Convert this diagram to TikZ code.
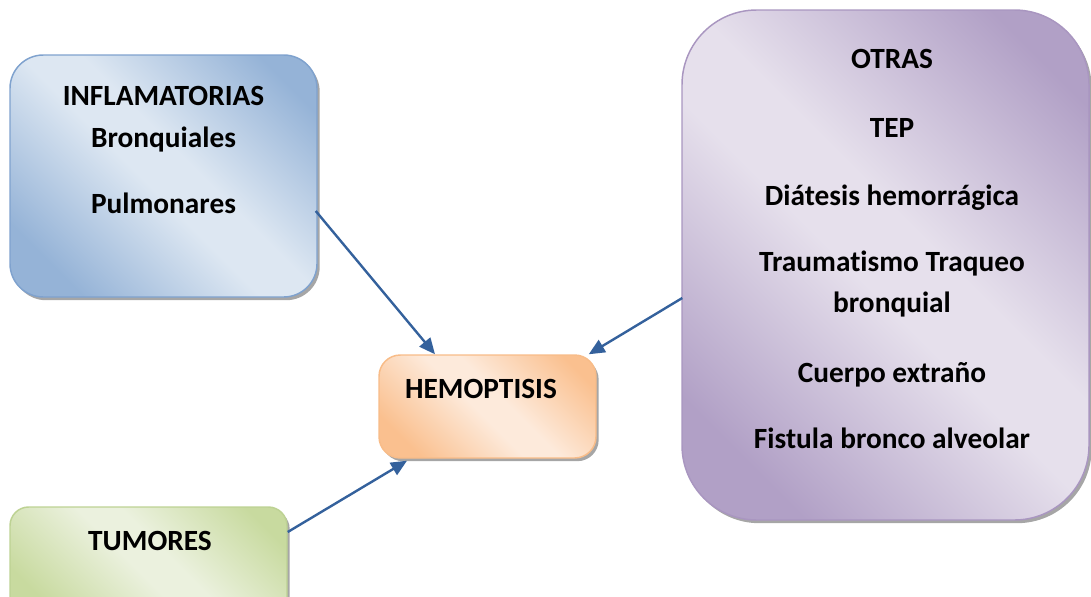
\documentclass[tikz,border=0pt]{standalone}
\usepackage{fontspec}
\setmainfont{Carlito}[Ligatures=NoCommon]
\usetikzlibrary{arrows.meta,shadows,calc}

\definecolor{blueDark}{HTML}{95B3D7}
\definecolor{blueLight}{HTML}{DDE7F2}
\definecolor{blueEdge}{HTML}{7FA2CE}
\definecolor{orangeDark}{HTML}{FAC08F}
\definecolor{orangeLight}{HTML}{FDEADB}
\definecolor{orangeEdge}{HTML}{F8BC88}
\definecolor{greenDark}{HTML}{C8DA9F}
\definecolor{greenLight}{HTML}{EBF1DE}
\definecolor{greenEdge}{HTML}{BDD293}
\definecolor{purpleDark}{HTML}{B1A0C6}
\definecolor{purpleLight}{HTML}{E6E0EC}
\definecolor{purpleEdge}{HTML}{A996C0}
\definecolor{arrowBlue}{HTML}{34619C}

% diagonal two-tone gradients: dark ends, broad light middle
\newcommand{\diagshade}[3]{%
  \pgfdeclareverticalshading{#1}{100bp}{%
    color(0bp)=(#2); color(24bp)=(#2); color(47bp)=(#3); color(55bp)=(#3);
    color(78bp)=(#2); color(100bp)=(#2)}}
\diagshade{blueGlow}{blueDark}{blueLight}
\diagshade{orangeGlow}{orangeDark}{orangeLight}
\diagshade{greenGlow}{greenDark}{greenLight}
\diagshade{purpleGlow}{purpleDark}{purpleLight}

\tikzset{
  box/.style={draw, line width=1.1pt, inner sep=0pt,
    drop shadow={shadow xshift=2pt, shadow yshift=-2.4pt, fill=black, opacity=0.35}},
  glow/.style={shade, shading=#1, shading angle=-45},
  label/.style={anchor=base, inner sep=0pt, font=\fontsize{22}{26}\selectfont\bfseries},
  link/.style={draw=arrowBlue, line width=1.8pt,
    -{Triangle[length=12pt, width=10.5pt]}},
}

\begin{document}
\begin{tikzpicture}[x=0.75pt, y=-0.75pt]
  \useasboundingbox (0,0) rectangle (1091,596);

  % boxes
  \node[box, draw=blueEdge, glow=blueGlow, rounded corners=25pt,
        minimum width={307*0.75pt}, minimum height={242*0.75pt}]
        (infl) at (163.5,176) {};
  \node[box, draw=purpleEdge, glow=purpleGlow, rounded corners=56pt,
        minimum width={407*0.75pt}, minimum height={510*0.75pt}]
        (otras) at (885.5,265) {};
  \node[box, draw=orangeEdge, glow=orangeGlow, rounded corners=16pt,
        minimum width={217*0.75pt}, minimum height={103*0.75pt}]
        (hemo) at (487.5,406.5) {};
  \node[box, draw=greenEdge, glow=greenGlow, rounded corners=14pt,
        minimum width={277*0.75pt}, minimum height={113*0.75pt}]
        (tum) at (148.5,563.5) {};

  % texts
  \node[label] (t-infl) at (163.5,105) {INFLAMATORIAS};
  \node[label] (t-bronq) at (163.5,147) {Bronquiales};
  \node[label] (t-pulm) at (163.5,213) {Pulmonares};

  \node[label] (t-hemo) at (481,398) {HEMOPTISIS};
  \node[label] (t-tum) at (150,550) {TUMORES};

  \node[label] (t-otras) at (892,68) {OTRAS};
  \node[label] (t-tep) at (892,137) {TEP};
  \node[label] (t-diat) at (892,205) {Diátesis hemorrágica};
  \node[label] (t-trau) at (892,271) {Traumatismo Traqueo};
  \node[label] (t-bq) at (892,312.5) {bronquial};
  \node[label] (t-cuer) at (892,382) {Cuerpo extraño};
  \node[label] (t-fist) at (892,448) {Fistula bronco alveolar};

  % connectors
  \draw[link] ($(infl.east)+(-2,35)$) -- ($(hemo.north)+(-52.5,0)$);
  \draw[link] ($(otras.west)+(1,33)$) -- ($(hemo.north east)+(-8,0)$);
  \draw[link] ($(tum.east)+(0,-31.5)$) -- ($(hemo.south)+(-80.5,2)$);
\end{tikzpicture}
\end{document}
